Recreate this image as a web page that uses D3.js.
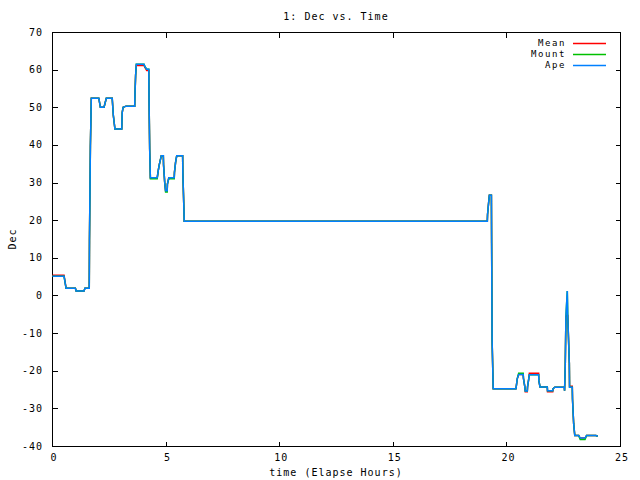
<!DOCTYPE html>
<html>
<head>
<meta charset="utf-8">
<script src="https://cdn.jsdelivr.net/npm/d3@7"></script>
<style>
  html, body { margin: 0; padding: 0; background: #fff; }
  svg text { font-family: "DejaVu Sans Mono", "Liberation Mono", monospace; font-size: 10px; letter-spacing: 1px; fill: #000; }
  svg text.legend { font-size: 9px; letter-spacing: 1.6px; }
</style>
</head>
<body>
<svg id="chart" width="640" height="480"></svg>
<script>
// ---- data ----
const titleText = "1: Dec vs. Time";
const xLabel = "time (Elapse Hours)";
const yLabel = "Dec";
const seriesNames = ["Mean", "Mount", "Ape"];
const seriesColors = ["#ff0000", "#00c000", "#0080ff"];
const xTicks = [0, 5, 10, 15, 20, 25];
const yTicks = [-40, -30, -20, -10, 0, 10, 20, 30, 40, 50, 60, 70];

const times = [
  0.02, 0.53, 0.62, 1.03, 1.06, 1.41, 1.45, 1.64, 1.65, 1.69,
  1.73, 2.06, 2.13, 2.29, 2.39, 2.65, 2.70, 2.77, 3.07, 3.09,
  3.13, 3.26, 3.64, 3.65, 3.68, 3.71, 4.05, 4.09, 4.17, 4.26,
  4.27, 4.30, 4.33, 4.63, 4.68, 4.72, 4.81, 4.90, 4.91, 4.96,
  5.00, 5.07, 5.08, 5.14, 5.38, 5.39, 5.44, 5.49, 5.75, 5.76,
  5.80, 5.82, 19.16, 19.17, 19.22, 19.25, 19.34, 19.35, 19.37, 19.42,
  20.42, 20.48, 20.54, 20.74, 20.75, 20.81, 20.83, 20.92, 20.93, 20.98,
  21.01, 21.42, 21.43, 21.48, 21.80, 21.81, 22.04, 22.05, 22.13, 22.55,
  22.56, 22.59, 22.62, 22.68, 22.70, 22.77, 22.78, 22.90, 22.91, 22.96,
  23.01, 23.18, 23.25, 23.46, 23.53, 23.94, 24.02
];

const apeValues = [
  5.1, 5.1, 1.9, 1.9, 1.2, 1.2, 1.9, 1.9, 14.6, 39.7,
  52.4, 52.4, 50.0, 50.0, 52.4, 52.4, 47.8, 44.2, 44.2, 48.6,
  50.0, 50.3, 50.3, 53.1, 58.4, 61.4, 61.4, 60.8, 60.1, 60.1,
  53.0, 38.7, 31.3, 31.3, 33.3, 34.7, 37.1, 37.1, 34.7, 30.1,
  27.8, 27.8, 29.6, 31.3, 31.3, 32.7, 35.4, 37.1, 37.1, 32.5,
  24.2, 19.7, 19.7, 21.5, 24.8, 26.6, 26.6, 13.9, -11.8, -24.8,
  -24.8, -22.1, -21.0, -21.0, -22.0, -24.2, -25.4, -25.4, -24.3, -22.3,
  -21.1, -21.1, -22.7, -24.3, -24.3, -25.3, -25.3, -24.8, -24.4, -24.4,
  -25.3, -18.9, -5.6, 1.2, -5.3, -18.0, -24.4, -24.4, -27.6, -34.0,
  -37.2, -37.2, -37.9, -37.9, -37.2, -37.2, -37.4
];

const meanValues = [
  5.4, 5.4, 1.9, 1.9, 1.2, 1.2, 1.9, 1.9, 14.6, 39.7,
  52.4, 52.4, 50.0, 50.0, 52.4, 52.4, 47.8, 44.2, 44.2, 48.6,
  50.0, 50.3, 50.3, 53.1, 58.4, 61.1, 61.1, 60.6, 59.8, 59.8,
  53.0, 38.7, 31.3, 31.3, 33.3, 34.7, 37.1, 37.1, 34.7, 30.1,
  27.8, 27.8, 29.6, 31.3, 31.3, 32.7, 35.4, 37.1, 37.1, 32.5,
  24.2, 19.7, 19.7, 21.5, 24.8, 26.6, 26.6, 13.9, -11.8, -24.8,
  -24.8, -22.1, -21.0, -21.0, -22.0, -24.2, -25.6, -25.6, -24.3, -22.3,
  -20.7, -20.7, -22.7, -24.3, -24.3, -25.6, -25.6, -24.8, -24.4, -24.4,
  -25.3, -18.9, -5.6, -5.2, -5.3, -18.0, -24.1, -24.1, -27.6, -34.0,
  -37.2, -37.2, -37.9, -37.9, -37.2, -37.2, -37.4
];

const mountValues = [
  5.1, 5.1, 1.9, 1.9, 1.2, 1.2, 1.9, 1.9, 14.6, 39.7,
  52.4, 52.4, 50.0, 50.0, 52.4, 52.4, 47.8, 44.2, 44.2, 48.6,
  50.0, 50.3, 50.3, 53.1, 58.4, 61.4, 61.4, 60.8, 60.1, 60.1,
  53.0, 38.7, 31.0, 31.0, 33.3, 34.7, 37.1, 37.1, 34.7, 30.1,
  27.5, 27.5, 29.6, 31.0, 31.0, 32.7, 35.4, 37.1, 37.1, 32.5,
  24.2, 19.7, 19.7, 21.5, 24.8, 26.6, 26.6, 13.9, -11.8, -24.8,
  -24.8, -22.1, -20.7, -20.7, -22.0, -24.2, -25.4, -25.4, -24.3, -22.3,
  -21.1, -21.1, -22.7, -24.3, -24.3, -25.3, -25.3, -24.8, -24.4, -24.4,
  -25.3, -18.9, -5.6, 1.2, -5.3, -18.0, -24.4, -24.4, -27.6, -34.0,
  -37.2, -37.2, -38.3, -38.3, -37.2, -37.2, -37.4
];

// ---- layout ----
const svg = d3.select("#chart");
const plot = { left: 52, right: 620, top: 32, bottom: 446 };

const x = d3.scaleLinear().domain([0, 25]).range([plot.left, plot.right]);
const y = d3.scaleLinear().domain([-40, 70]).range([plot.bottom, plot.top]);

// frame
svg.append("rect")
  .attr("x", plot.left + 0.5).attr("y", plot.top + 0.5)
  .attr("width", plot.right - plot.left).attr("height", plot.bottom - plot.top)
  .attr("fill", "none").attr("stroke", "#000").attr("stroke-width", 1)
  .attr("shape-rendering", "crispEdges");

// ticks (inward, mirrored) via d3 axes
const tickLen = 5;
const axisStyle = g => {
  g.select(".domain").remove();
  g.selectAll(".tick line").attr("stroke", "#000").attr("shape-rendering", "crispEdges");
  g.selectAll(".tick text").remove();
};
svg.append("g").attr("transform", `translate(0,${plot.bottom + 0.5})`)
  .call(d3.axisBottom(x).tickValues(xTicks).tickSize(-tickLen)).call(axisStyle);
svg.append("g").attr("transform", `translate(0,${plot.top + 0.5})`)
  .call(d3.axisTop(x).tickValues(xTicks).tickSize(-tickLen)).call(axisStyle);
svg.append("g").attr("transform", `translate(${plot.left + 0.5},0)`)
  .call(d3.axisLeft(y).tickValues(yTicks).tickSize(-tickLen)).call(axisStyle);
svg.append("g").attr("transform", `translate(${plot.right + 0.5},0)`)
  .call(d3.axisRight(y).tickValues(yTicks).tickSize(-tickLen)).call(axisStyle);

// tick labels
svg.append("g").selectAll("text").data(xTicks).join("text")
  .attr("x", d => x(d) + 2).attr("y", 457).attr("dy", "0.35em")
  .attr("text-anchor", "middle").text(d => d);
svg.append("g").selectAll("text").data(yTicks).join("text")
  .attr("x", 43).attr("y", d => y(d)).attr("dy", "0.35em")
  .attr("text-anchor", "end").text(d => d);

// titles
svg.append("text").attr("x", 336).attr("y", 16).attr("dy", "0.35em")
  .attr("text-anchor", "middle").text(titleText);
svg.append("text").attr("x", 336).attr("y", 472).attr("dy", "0.35em")
  .attr("text-anchor", "middle").text(xLabel);
svg.append("text").attr("transform", "translate(12,239) rotate(-90)")
  .attr("dy", "0.35em").attr("text-anchor", "middle").text(yLabel);

// lines
const seriesValues = [meanValues, mountValues, apeValues];
const line = d3.line().x(d => x(d[0])).y(d => y(d[1]));
seriesValues.forEach((vals, i) => {
  const pts = times.map((t, k) => [t, vals[k]]);
  svg.append("path").datum(pts)
    .attr("d", line)
    .attr("fill", "none")
    .attr("stroke", seriesColors[i])
    .attr("stroke-width", 1.5);
});

// legend
const legendY = [43, 54, 65];
seriesNames.forEach((name, i) => {
  svg.append("text").attr("class", "legend")
    .attr("x", 566).attr("y", legendY[i]).attr("dy", "0.35em")
    .attr("text-anchor", "end").text(name);
  svg.append("line")
    .attr("x1", 573).attr("x2", 606)
    .attr("y1", legendY[i] + 0.5).attr("y2", legendY[i] + 0.5)
    .attr("stroke", seriesColors[i]).attr("stroke-width", 1.5);
});
</script>
</body>
</html>
